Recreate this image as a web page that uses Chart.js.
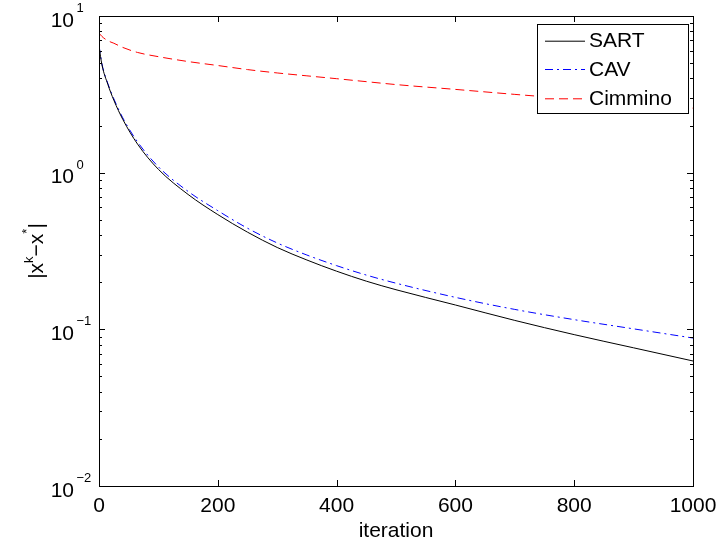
<!DOCTYPE html>
<html>
<head>
<meta charset="utf-8">
<script src="https://cdn.jsdelivr.net/npm/chart.js@4/dist/chart.umd.min.js"></script>
<style>
  html, body { margin: 0; padding: 0; background: #fff; }
  canvas { display: block; }
</style>
</head>
<body>
<canvas id="chart" width="725" height="546"></canvas>
<script>
// datos
const iterations = [0, 5, 15, 25, 40, 65, 100, 150, 200, 250, 300, 350, 400, 450, 500, 600, 700, 800, 900, 1000];
const sart    = [6.4, 4.87, 3.65, 2.90, 2.19, 1.52, 1.05, 0.726, 0.540, 0.417, 0.333, 0.277, 0.235, 0.203, 0.179, 0.143, 0.114, 0.0925, 0.0762, 0.0628];
const cav     = [6.5, 4.94, 3.70, 2.96, 2.24, 1.57, 1.09, 0.759, 0.572, 0.442, 0.356, 0.298, 0.255, 0.222, 0.197, 0.160, 0.134, 0.1153, 0.1007, 0.088];
const cimmino = [7.8, 7.4, 6.95, 6.7, 6.3, 5.85, 5.5, 5.12, 4.83, 4.55, 4.33, 4.15, 3.98, 3.81, 3.65, 3.4, 3.16, 2.95, 2.76, 2.58];
const xTicks = [0, 200, 400, 600, 800, 1000];
const yDecades = [-2, -1, 0, 1];

const FONT = 'Liberation Sans, Arial, Helvetica, sans-serif';
const pts = arr => iterations.map((x, i) => ({ x, y: arr[i] }));

// marco, ticks hacia dentro, etiquetas 10^n, titulo y leyenda estilo matlab
const matlabAxes = {
    id: 'matlabAxes',
    afterDatasetsDraw(chart) {
        const { ctx, chartArea: a, scales: { x, y } } = chart;
        ctx.save();
        ctx.strokeStyle = '#000';
        ctx.lineWidth = 1;
        ctx.setLineDash([]);
        ctx.beginPath();
        xTicks.forEach(v => {
            const px = Math.round(x.getPixelForValue(v)) + 0.5;
            ctx.moveTo(px, a.bottom); ctx.lineTo(px, a.bottom - 6);
            ctx.moveTo(px, a.top); ctx.lineTo(px, a.top + 6);
        });
        yDecades.forEach(d => {
            for (let m = 1; m <= 9; m++) {
                if (d === 1 && m > 1) break;
                const py = Math.round(y.getPixelForValue(m * Math.pow(10, d))) + 0.5;
                const len = m === 1 ? 6 : 3;
                ctx.moveTo(a.left, py); ctx.lineTo(a.left + len, py);
                ctx.moveTo(a.right, py); ctx.lineTo(a.right - len, py);
            }
        });
        ctx.stroke();
        ctx.strokeRect(Math.round(a.left) + 0.5, Math.round(a.top) + 0.5,
            Math.round(a.right - a.left), Math.round(a.bottom - a.top));

        // etiquetas eje y
        ctx.fillStyle = '#000';
        ctx.textBaseline = 'alphabetic';
        yDecades.forEach(d => {
            const py = y.getPixelForValue(Math.pow(10, d));
            ctx.font = '21px ' + FONT;
            ctx.textAlign = 'right';
            ctx.fillText('10', 74, py + 10.7);
            ctx.font = '13px ' + FONT;
            ctx.textAlign = 'left';
            ctx.fillText(d < 0 ? '\u2212' + (-d) : String(d), 76.5, py - 4);
        });

        // titulo eje y: |x^k - x^*|
        const parts = [['|x', 21, 0], ['k', 13, -10], ['\u2212x', 21, 0], ['*', 13, -12], ['|', 21, 0]];
        let total = 0;
        parts.forEach(p => { ctx.font = p[1] + 'px ' + FONT; total += ctx.measureText(p[0]).width; });
        ctx.translate(43, (a.top + a.bottom) / 2);
        ctx.rotate(-Math.PI / 2);
        let cx = -total / 2;
        parts.forEach(p => {
            ctx.font = p[1] + 'px ' + FONT;
            ctx.fillText(p[0], cx, p[2]);
            cx += ctx.measureText(p[0]).width;
        });
        ctx.setTransform(1, 0, 0, 1, 0, 0);

        // leyenda
        const lx = 537.5, ly = 24.5, lw = 151, lh = 89;
        ctx.fillStyle = '#fff';
        ctx.fillRect(lx, ly, lw, lh);
        ctx.strokeStyle = '#000';
        ctx.strokeRect(lx, ly, lw, lh);
        const rows = [40.7, 69, 98.3];
        chart.data.datasets.forEach((ds, i) => {
            ctx.strokeStyle = ds.borderColor;
            ctx.setLineDash(ds.borderDash || []);
            ctx.beginPath();
            ctx.moveTo(545, rows[i] + 0.5); ctx.lineTo(585, rows[i] + 0.5);
            ctx.stroke();
            ctx.setLineDash([]);
            ctx.fillStyle = '#000';
            ctx.font = '21px ' + FONT;
            ctx.textAlign = 'left';
            ctx.textBaseline = 'middle';
            ctx.fillText(ds.label, 589, rows[i] + 1);
        });
        ctx.restore();
    }
};

new Chart(document.getElementById('chart'), {
    type: 'line',
    data: {
        datasets: [
            { label: 'SART', data: pts(sart), borderColor: '#000000', borderWidth: 1, pointRadius: 0, cubicInterpolationMode: 'monotone' },
            { label: 'CAV', data: pts(cav), borderColor: '#0000ff', borderWidth: 1, borderDash: [8, 4, 2, 4], pointRadius: 0, cubicInterpolationMode: 'monotone' },
            { label: 'Cimmino', data: pts(cimmino), borderColor: '#ff0000', borderWidth: 1, borderDash: [9, 5], pointRadius: 0, cubicInterpolationMode: 'monotone' }
        ]
    },
    options: {
        responsive: false,
        animation: false,
        layout: { padding: { top: 16, right: 32, left: 0, bottom: 0 } },
        plugins: { legend: { display: false }, tooltip: { enabled: false } },
        scales: {
            x: {
                type: 'linear', min: 0, max: 1000,
                afterBuildTicks: s => { s.ticks = xTicks.map(v => ({ value: v })); },
                ticks: { color: '#000', font: { size: 21, family: FONT }, padding: 8, maxRotation: 0, callback: v => String(v) },
                grid: { display: false, drawTicks: false },
                border: { display: false },
                title: { display: true, text: 'iteration', color: '#000', font: { size: 21, family: FONT }, padding: { top: 0, bottom: 2 } },
                afterFit: s => { s.height = 60; }
            },
            y: {
                type: 'logarithmic', min: 0.01, max: 10,
                ticks: { display: false },
                grid: { display: false, drawTicks: false },
                border: { display: false },
                afterFit: s => { s.width = 99; }
            }
        }
    },
    plugins: [matlabAxes]
});
</script>
</body>
</html>
